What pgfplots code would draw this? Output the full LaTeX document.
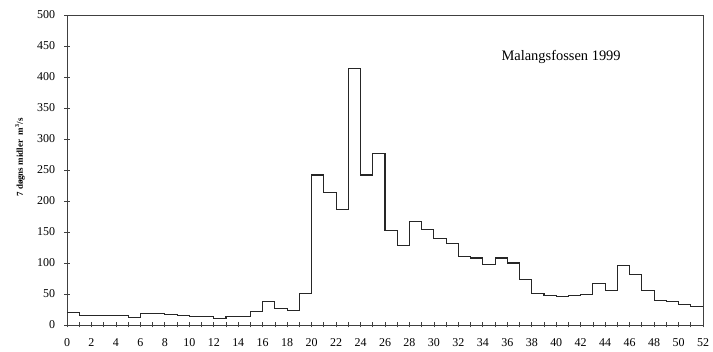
\documentclass[border=0pt]{standalone}
\usepackage{pgfplots}
\pgfplotsset{compat=1.18}
\usepackage{fontspec}
\setmainfont{Liberation Serif}
\usetikzlibrary{calc}
\begin{document}
\begin{tikzpicture}
\begin{axis}[
  scale only axis, width=636bp, height=310bp,
  xmin=0, xmax=52, ymin=0, ymax=500,
  xtick={0,2,...,52}, minor xtick={1,3,...,51},
  ytick={0,50,...,500},
  tick align=center, xtick pos=bottom, ytick pos=left,
  major tick length=5bp, minor tick length=5bp,
  axis line style={draw=black!75, line width=0.9bp},
  every tick/.style={draw=black!75, line width=0.8bp},
  /pgf/number format/assume math mode=true,
  tick label style={font=\fontsize{12}{13}\selectfont},
  yticklabel style={xshift=-6bp},
  xticklabel style={yshift=-8bp},
  ylabel={\textbf{7 døgns midler\ \ m\textsuperscript{3}/s}},
  every axis y label/.style={at={(axis description cs:-0.074,0.54)}, rotate=90, anchor=center, font=\fontsize{9}{10}\selectfont},
  clip=false,
]
\addplot[const plot mark left, black!85, line width=1.1bp] coordinates {
(0,20) (1,15) (2,15) (3,15) (4,15) (5,12.5) (6,19) (7,19) (8,17) (9,15.5)
(10,13) (11,13) (12,11) (13,13) (14,13) (15,22) (16,38) (17,26) (18,24) (19,51)
(20,242) (21,213) (22,186) (23,414) (24,242) (25,276) (26,152) (27,128) (28,167) (29,154)
(30,140) (31,132) (32,111) (33,108) (34,97) (35,108) (36,100) (37,73) (38,51) (39,48)
(40,46) (41,48) (42,49.5) (43,67) (44,55) (45,96) (46,82) (47,55) (48,40) (49,38)
(50,33) (51,30) (52,30)
};
\node[font=\fontsize{14.5}{15}\selectfont] at (axis cs:40.4,433) {Malangsfossen 1999};
\end{axis}
\pgfresetboundingbox
\path ($(current axis.south west)+(-67bp,-27bp)$) rectangle ($(current axis.north east)+(10bp,15bp)$);
\end{tikzpicture}
\end{document}
